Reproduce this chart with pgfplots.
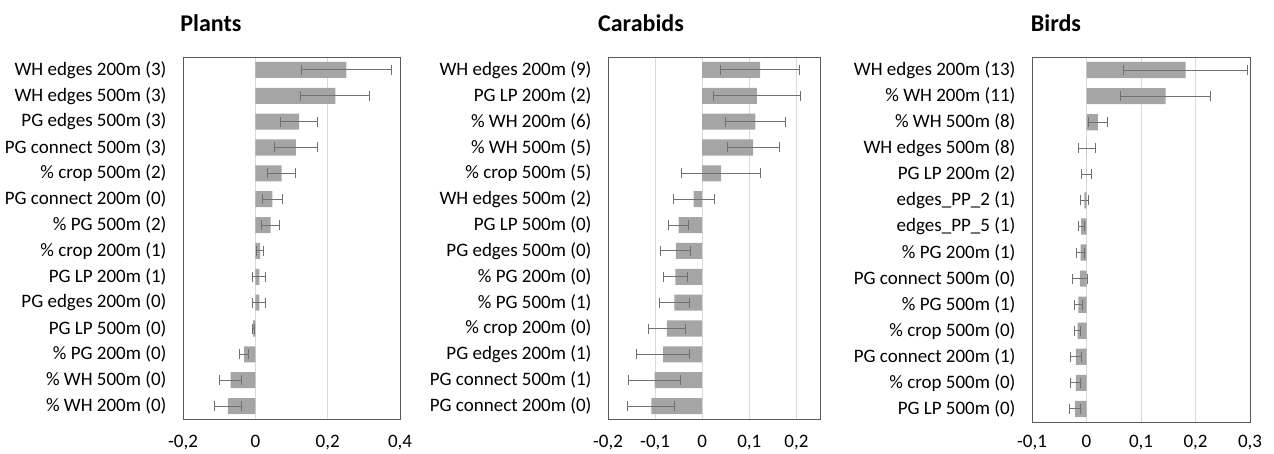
\documentclass[border=0pt]{standalone}
\usepackage{fontspec}
\setmainfont{Carlito}
\usepackage{pgfplots}
\pgfplotsset{compat=1.18}

\definecolor{barfill}{HTML}{A5A5A5}
\definecolor{errc}{HTML}{707070}
\definecolor{gridc}{HTML}{D9D9D9}
\definecolor{boxc}{HTML}{595959}

\pgfplotsset{
  panel/.style={
    xbar, scale only axis, anchor=south west,
    height=362pt,
    ymin=-0.5, ymax=13.5, y dir=reverse, ytick={0,...,13},
    major tick length=0pt,
    xmajorgrids, grid style={draw=gridc, line width=1pt},
    axis line style={draw=boxc, line width=0.8pt},
    bar width=0.62,
    font=\fontsize{19}{22}\selectfont,
    yticklabel style={xshift=-13pt},
    xticklabel style={yshift=-13pt},
    /pgf/number format/use comma,
    /pgf/number format/assume math mode=true,
  },
  bars/.style={
    fill=barfill, draw=none,
    error bars/.cd, x dir=both, x explicit,
    error mark=|,
    error bar style={draw=errc, line width=1pt},
    error mark options={draw=errc, line width=1pt, mark size=5pt},
  },
}

\begin{document}
\begin{tikzpicture}
\path[use as bounding box] (0,0) rectangle (1274pt,454pt);

% Plants
\begin{axis}[panel, at={(183pt,35pt)}, width=217pt,
    xmin=-0.2, xmax=0.4, xtick={-0.2,0,0.2,0.4},
    yticklabels={WH edges 200m (3), WH edges 500m (3), PG edges 500m (3),
      PG connect 500m (3), \% crop 500m (2), PG connect 200m (0),
      \% PG 500m (2), \% crop 200m (1), PG LP 200m (1), PG edges 200m (0),
      PG LP 500m (0), \% PG 200m (0), \% WH 500m (0), \% WH 200m (0)}]
\addplot[bars] coordinates {
  (0.252,0) +- (0.125,0)
  (0.221,1) +- (0.096,0)
  (0.121,2) +- (0.052,0)
  (0.112,3) +- (0.060,0)
  (0.073,4) +- (0.038,0)
  (0.047,5) +- (0.027,0)
  (0.042,6) +- (0.025,0)
  (0.013,7) +- (0.009,0)
  (0.011,8) +- (0.018,0)
  (0.011,9) +- (0.018,0)
  (-0.006,10) +- (0.003,0)
  (-0.031,11) +- (0.0125,0)
  (-0.068,12) +- (0.030,0)
  (-0.076,13) +- (0.037,0)
};
\end{axis}

% Carabids
\begin{axis}[panel, at={(608pt,35pt)}, width=212pt,
    xmin=-0.2, xmax=0.25, xtick={-0.2,-0.1,0,0.1,0.2},
    yticklabels={WH edges 200m (9), PG LP 200m (2), \% WH 200m (6),
      \% WH 500m (5), \% crop 500m (5), WH edges 500m (2), PG LP 500m (0),
      PG edges 500m (0), \% PG 200m (0), \% PG 500m (1), \% crop 200m (0),
      PG edges 200m (1), PG connect 500m (1), PG connect 200m (0)}]
\addplot[bars] coordinates {
  (0.123,0) +- (0.084,0)
  (0.116,1) +- (0.092,0)
  (0.113,2) +- (0.063,0)
  (0.108,3) +- (0.055,0)
  (0.040,4) +- (0.084,0)
  (-0.018,5) +- (0.044,0)
  (-0.050,6) +- (0.021,0)
  (-0.056,7) +- (0.032,0)
  (-0.057,8) +- (0.025,0)
  (-0.059,9) +- (0.031,0)
  (-0.075,10) +- (0.039,0)
  (-0.083,11) +- (0.056,0)
  (-0.101,12) +- (0.055,0)
  (-0.108,13) +- (0.050,0)
};
\end{axis}

% Birds
\begin{axis}[panel, at={(1032pt,32pt)}, width=218pt, height=365pt,
    xticklabel style={yshift=3pt},
    xmin=-0.1, xmax=0.3, xtick={-0.1,0,0.1,0.2,0.3},
    yticklabels={WH edges 200m (13), \% WH 200m (11), \% WH 500m (8),
      WH edges 500m (8), PG LP 200m (2), edges\_PP\_2 (1), edges\_PP\_5 (1),
      \% PG 200m (1), PG connect 500m (0), \% PG 500m (1), \% crop 500m (0),
      PG connect 200m (1), \% crop 500m (0), PG LP 500m (0)}]
\addplot[bars] coordinates {
  (0.182,0) +- (0.114,0)
  (0.145,1) +- (0.082,0)
  (0.021,2) +- (0.018,0)
  (0.0005,3) +- (0.016,0)
  (0.0003,4) +- (0.009,0)
  (-0.004,5) +- (0.0075,0)
  (-0.010,6) +- (0.0055,0)
  (-0.011,7) +- (0.0075,0)
  (-0.012,8) +- (0.013,0)
  (-0.015,9) +- (0.007,0)
  (-0.0165,10) +- (0.005,0)
  (-0.0195,11) +- (0.010,0)
  (-0.0195,12) +- (0.009,0)
  (-0.0207,13) +- (0.010,0)
};
\end{axis}

\node[font=\bfseries\fontsize{24}{28}\selectfont] at (211pt,431pt) {Plants};
\node[font=\bfseries\fontsize{24}{28}\selectfont] at (641pt,431pt) {Carabids};
\node[font=\bfseries\fontsize{24}{28}\selectfont] at (1056pt,431pt) {Birds};
\end{tikzpicture}
\end{document}
